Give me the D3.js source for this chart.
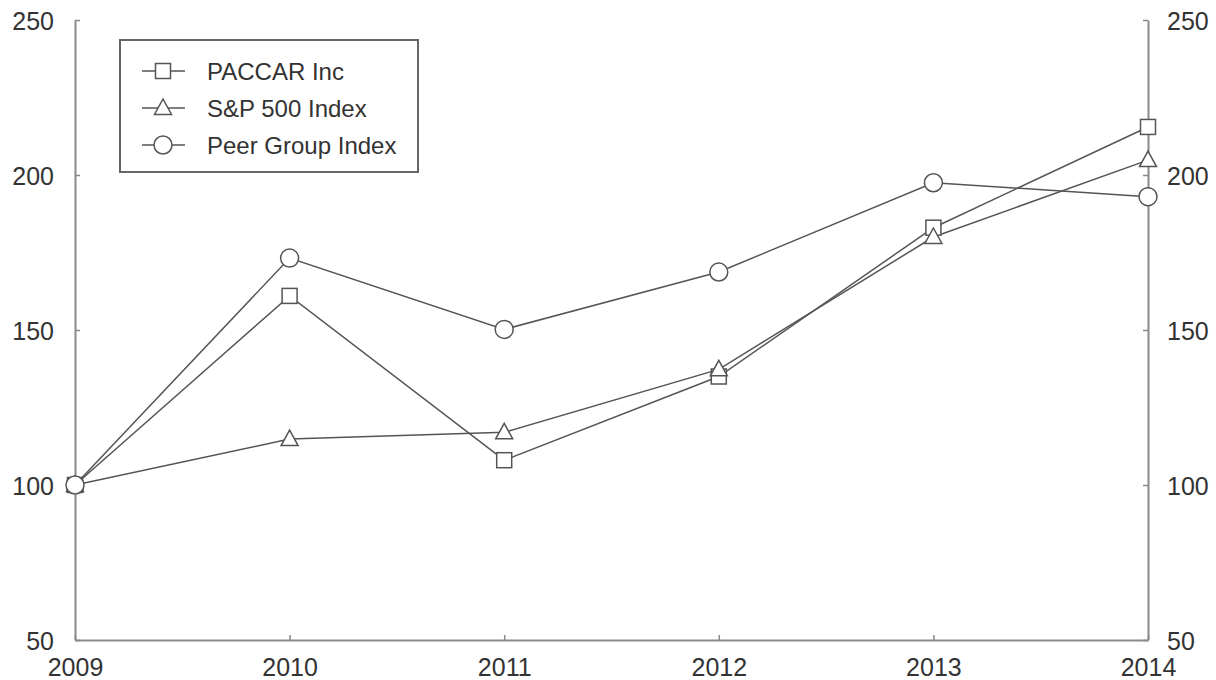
<!DOCTYPE html>
<html><head><meta charset="utf-8">
<script src="https://cdn.jsdelivr.net/npm/d3@7"></script>
<style>body{margin:0;background:#fff}</style>
</head><body>
<svg id="c" width="1216" height="680"></svg>
<script>
const years = [2009, 2010, 2011, 2012, 2013, 2014];
const paccar = [100, 161, 108, 135, 183, 215.5];
const sp500 = [100, 114.8, 117, 137.3, 180, 204.8];
const peer = [100, 173.2, 150.2, 168.7, 197.5, 193];
const seriesNames = ["PACCAR Inc", "S&P 500 Index", "Peer Group Index"];
const seriesShapes = ["square", "triangle", "circle"];
const yTicks = [50, 100, 150, 200, 250];

const svg = d3.select("#c");
const L = 75, R = 1148, T = 20, B = 640;
const x = d3.scaleLinear().domain([2009, 2014]).range([L, R]);
const y = d3.scaleLinear().domain([50, 250]).range([B, T]);
const axisCol = "#8a8a8a", lineCol = "#555", textCol = "#333";
const font = "Liberation Sans, Arial, sans-serif";

// axes
const gl = svg.append("g").attr("transform", `translate(${L},0)`)
  .call(d3.axisLeft(y).tickValues(yTicks).tickSizeInner(-5).tickSizeOuter(0).tickPadding(21));
const gr = svg.append("g").attr("transform", `translate(${R},0)`)
  .call(d3.axisRight(y).tickValues(yTicks).tickSizeInner(-5).tickSizeOuter(0).tickPadding(19));
const gb = svg.append("g").attr("transform", `translate(0,${B})`)
  .call(d3.axisBottom(x).tickValues(years).tickFormat(d3.format("d")).tickSizeInner(-5).tickSizeOuter(0).tickPadding(18));
[gl, gr, gb].forEach(g => {
  g.selectAll("path.domain").attr("stroke", axisCol).attr("stroke-width", 2);
  g.selectAll(".tick line").attr("stroke", axisCol).attr("stroke-width", 1.5);
  g.selectAll("text").attr("fill", textCol).style("font-family", font).style("font-size", "25px");
});
gl.selectAll("text").attr("dy", "0.36em");
gr.selectAll("text").attr("dy", "0.36em");
gb.selectAll("text").attr("dy", "0.72em");

function drawShape(g, shape, cx, cy) {
  if (shape === "square") {
    g.append("rect").attr("x", cx - 7.5).attr("y", cy - 7.5).attr("width", 15).attr("height", 15);
  } else if (shape === "triangle") {
    g.append("path").attr("d", `M${cx},${cy - 9}L${cx + 8.5},${cy + 6.5}L${cx - 8.5},${cy + 6.5}Z`);
  } else {
    g.append("circle").attr("cx", cx).attr("cy", cy).attr("r", 9);
  }
}

const allSeries = [paccar, sp500, peer];
const line = d3.line().x((d, i) => x(years[i])).y(d => y(d));
allSeries.forEach((vals, k) => {
  svg.append("path").attr("d", line(vals)).attr("fill", "none")
    .attr("stroke", lineCol).attr("stroke-width", 1.5);
});
allSeries.forEach((vals, k) => {
  const g = svg.append("g").attr("fill", "#fff").attr("stroke", lineCol).attr("stroke-width", 1.5);
  vals.forEach((v, i) => drawShape(g, seriesShapes[k], x(years[i]), y(v)));
});

// legend
const lg = svg.append("g");
lg.append("rect").attr("x", 120).attr("y", 40).attr("width", 298).attr("height", 132)
  .attr("fill", "#fff").attr("stroke", "#666").attr("stroke-width", 2);
seriesNames.forEach((name, k) => {
  const cy = 71 + k * 37;
  lg.append("line").attr("x1", 142).attr("x2", 185).attr("y1", cy).attr("y2", cy)
    .attr("stroke", lineCol).attr("stroke-width", 1.5);
  const g = lg.append("g").attr("fill", "#fff").attr("stroke", lineCol).attr("stroke-width", 1.5);
  drawShape(g, seriesShapes[k], 163, cy);
  lg.append("text").attr("x", 207).attr("y", cy).attr("dy", "0.36em")
    .attr("fill", textCol).style("font-family", font).style("font-size", "24px").text(name);
});
</script>
</body></html>
